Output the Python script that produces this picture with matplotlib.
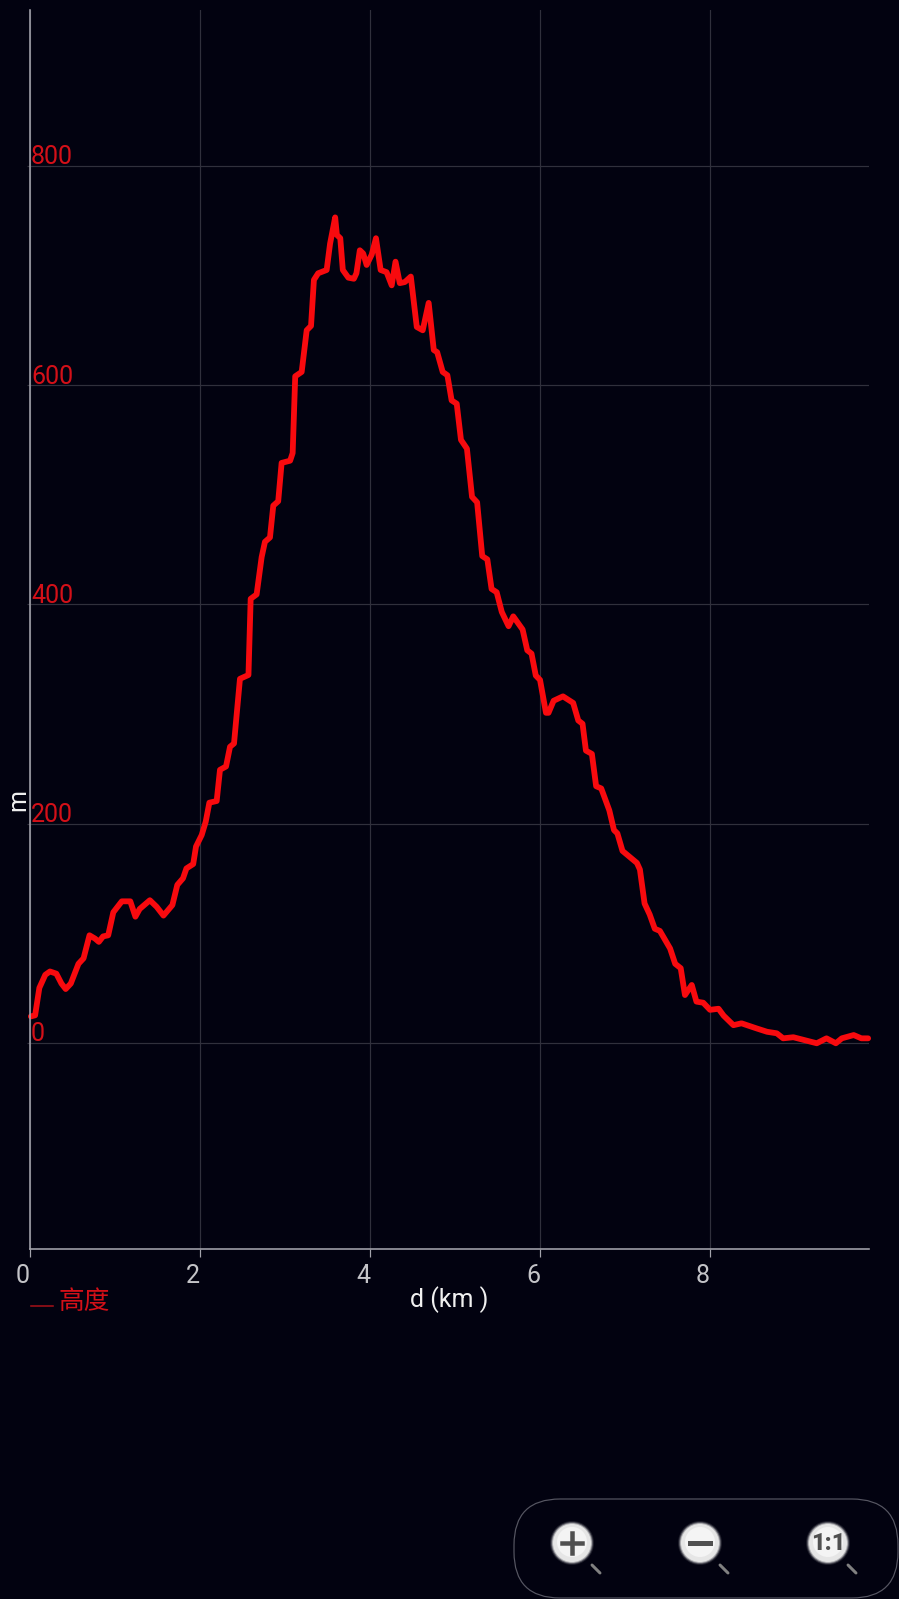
import matplotlib
matplotlib.use("Agg")
import matplotlib.pyplot as plt
from matplotlib.patches import Circle, FancyBboxPatch
from matplotlib.transforms import ScaledTranslation

W, H = 899, 1599
BG = "#020210"
GRID = "#30303c"
AXIS = "#a4a4ac"
RED = "#f80a0e"
LABEL_RED = "#d41018"

dist_km = [0.01, 0.06, 0.11, 0.18, 0.235, 0.31, 0.37, 0.42, 0.48, 0.57, 0.63, 0.70, 0.765, 0.81, 0.86, 0.92,
           0.98, 1.08, 1.18, 1.24, 1.29, 1.41, 1.49, 1.57, 1.675, 1.733, 1.80, 1.84, 1.92, 1.953, 2.02, 2.067,
           2.11, 2.196, 2.235, 2.306, 2.353, 2.40, 2.47, 2.57, 2.596, 2.666, 2.725, 2.764, 2.823, 2.862, 2.92,
           2.96, 3.06, 3.09, 3.12, 3.196, 3.255, 3.306, 3.34, 3.39, 3.49, 3.53, 3.59, 3.61, 3.65, 3.68, 3.745,
           3.81, 3.84, 3.88, 3.92, 3.96, 4.02, 4.07, 4.125, 4.195, 4.255, 4.30, 4.35, 4.41, 4.48, 4.55, 4.62,
           4.69, 4.75, 4.79, 4.855, 4.91, 4.96, 5.02, 5.07, 5.14, 5.2, 5.26, 5.32, 5.38, 5.43, 5.49, 5.55, 5.63,
           5.685, 5.795, 5.85, 5.90, 5.95, 6.0, 6.07, 6.10, 6.16, 6.27, 6.39, 6.45, 6.50, 6.54, 6.61, 6.66, 6.72,
           6.815, 6.87, 6.91, 6.97, 7.14, 7.175, 7.23, 7.29, 7.35, 7.41, 7.53, 7.59, 7.655, 7.705, 7.785, 7.84,
           7.92, 8.0, 8.10, 8.16, 8.275, 8.37, 8.55, 8.67, 8.785, 8.86, 8.98, 9.255, 9.37, 9.48, 9.55, 9.69, 9.78,
           9.86]
height_m = [24, 25, 50, 62, 65, 63, 54, 49, 54, 72, 77, 98, 95, 92, 97, 98,
            119, 129, 129, 115, 122, 130, 124, 116, 125.6, 144, 150, 159, 163, 179, 189.5, 201.6,
            219, 220.5, 249, 252, 270, 273, 332, 335.5, 405, 409, 443, 457, 461, 490, 494,
            529, 531, 538, 608, 612, 650, 654, 696, 702, 705, 729, 753, 737, 734, 705, 698,
            697, 702, 723, 720, 709.6, 719, 734, 705, 703, 691, 712.6, 693, 694, 699, 653, 650,
            675, 632, 630, 612, 609, 586, 583, 550, 542, 498, 493, 444, 441, 414, 411, 393, 380,
            389, 377, 358, 355, 335, 331, 301, 301, 312, 316, 310, 294, 291, 266.5, 263.5, 234, 232,
            212, 194, 191, 175, 164, 158, 127, 117, 104, 102, 86, 72, 68, 43.5, 52.7, 37.5,
            36.5, 30, 31, 24.7, 16, 17.7, 13, 10, 8.6, 4, 5, -0.5, 4, -0.5, 4, 7, 4,
            4]
x_ticks = [0, 2, 4, 6, 8]
y_ticks = [0, 200, 400, 600, 800]
x_label = "d (km )"
y_label = "m"
legend_name = "高度"

plt.rcParams["font.family"] = ["Roboto", "Noto Sans CJK SC", "DejaVu Sans"]
px = 72 / 100  # one pixel in points at dpi 100

fig = plt.figure(figsize=(W / 100, H / 100), dpi=100, facecolor=BG)
ax = fig.add_axes([30 / W, 1 - 1249 / H, (869 - 30) / W, (1249 - 10) / H], facecolor=BG)
ax.set_xlim(0, 9.87)
ax.set_ylim(-188.2, 942.2)

ax.grid(True, color=GRID, lw=1.2 * px)
ax.set_axisbelow(True)
ax.plot(dist_km, height_m, color=RED, lw=5.8 * px, solid_joinstyle="round", solid_capstyle="round", clip_on=False)

for s in ["top", "right"]:
    ax.spines[s].set_visible(False)
for s in ["left", "bottom"]:
    ax.spines[s].set_color(AXIS)
    ax.spines[s].set_linewidth(1.6 * px)

ax.set_xticks(x_ticks)
ax.set_yticks(y_ticks)
ax.tick_params(axis="x", length=8 * px, width=1.2 * px, color=AXIS, labelcolor="#c4c4c8", labelsize=18, pad=7 * px)
ax.tick_params(axis="y", length=3 * px, width=1.2 * px, color=GRID, labelcolor=LABEL_RED, labelsize=18,
               pad=-4 * px)

for lab in ax.get_xticklabels():
    lab.set_ha("right")
for lab in ax.get_yticklabels():
    lab.set_ha("left")
    lab.set_va("baseline")
    lab.set_transform(lab.get_transform() + ScaledTranslation(0, 1.5 / 100, fig.dpi_scale_trans))

# the rest is placed in screen pixels
ov = fig.add_axes([0, 0, 1, 1], facecolor="none")
ov.set_xlim(0, W)
ov.set_ylim(H, 0)
ov.axis("off")

ov.text(449, 1300, x_label, color="#f0f0f0", fontsize=18, ha="center", va="center")
ov.text(18, 800, y_label, color="#f0f0f0", fontsize=18, ha="center", va="center", rotation=90)

ov.plot([31, 53], [1306, 1306], color="#a01018", lw=1.6 * px)
ov.text(59, 1302, legend_name, color=LABEL_RED, fontsize=18.5, ha="left", va="center",
        family=["Noto Sans CJK SC", "DejaVu Sans"])

# zoom buttons
ov.add_patch(FancyBboxPatch((514 + 46, 1499 + 46), 384 - 92, 99 - 92, boxstyle="round,pad=46",
                            fc="none", ec="#565662", lw=1.2 * px, clip_on=False))
for cx in [572, 700, 828]:
    for r, a in [(22, 0.12), (21, 0.3), (20, 0.6)]:
        ov.add_patch(Circle((cx, 1543), r, fc="#e8e8e8", ec="none", alpha=a))
    ov.add_patch(Circle((cx, 1543), 19, fc="#e6e6e6", ec="none"))
    ov.add_patch(Circle((cx, 1542), 15, fc="#f4f4f4", ec="none"))
    ov.plot([cx + 20, cx + 28], [1565, 1573], color="#808080", lw=3 * px, solid_capstyle="round")
ov.plot([562, 582], [1543, 1543], color="#505050", lw=4.5 * px)
ov.plot([572, 572], [1533, 1553], color="#505050", lw=4.5 * px)
ov.plot([690, 710], [1543, 1543], color="#505050", lw=5 * px)
ov.text(828, 1543, "1:1", color="#505050", fontsize=17, fontweight="black", ha="center", va="center")

fig.savefig("out.png", dpi=100, facecolor=BG)
